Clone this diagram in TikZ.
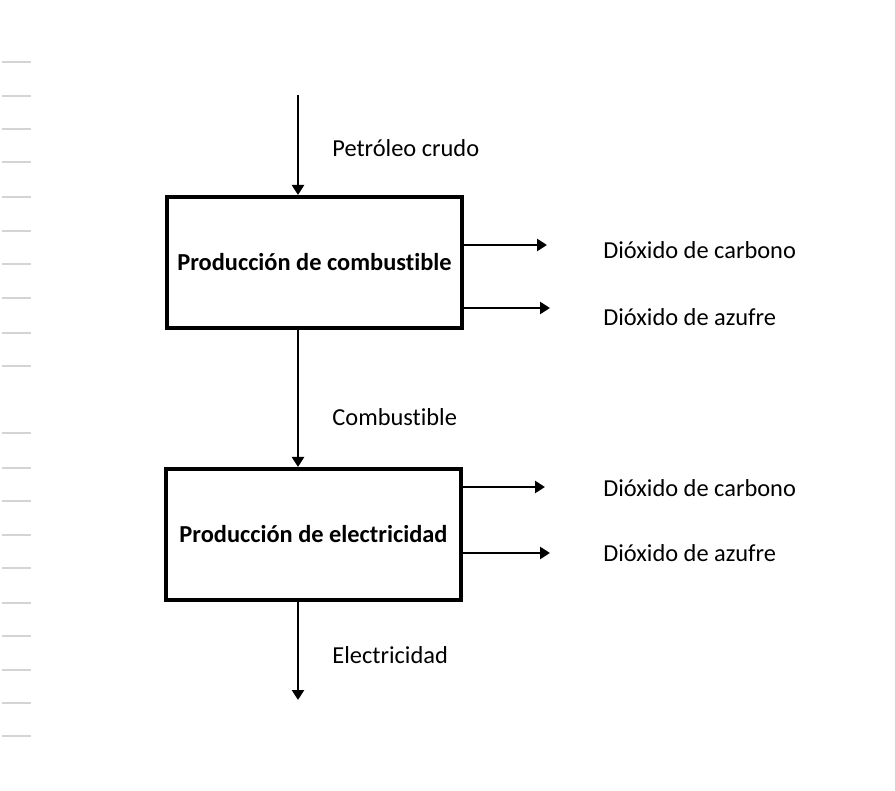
\documentclass[tikz,border=0pt]{standalone}
\usepackage{fontspec}
\setmainfont{Carlito}[Ligatures=NoCommon]
\usepackage{tikz}
\usetikzlibrary{positioning,arrows.meta}
\definecolor{rulegray}{RGB}{212,212,212}

\tikzset{
  procbox/.style={draw=black, line width=2pt, minimum width=147.5pt, minimum height=65.5pt,
    font=\fontsize{12.2}{14}\selectfont\bfseries},
  flow/.style={line width=1.4pt, -{Triangle[length=5pt,width=6pt]}},
  flowlabel/.style={anchor=west, inner sep=0pt, font=\fontsize{12.2}{14}\selectfont}
}

\begin{document}
\begin{tikzpicture}[x=0.5pt, y=-0.5pt]
\useasboundingbox[fill=white] (0,0) rectangle (895,791);
% margin rules
\foreach \y in {62,96,129,162,197,231,264,298,333,366,433,468,501,535,568,603,636,670,703,736}
    \draw[rulegray, line width=0.7pt] (2,\y) -- (31,\y);
% process boxes
\node[procbox] (fuel) at (314.5,262.5) {Producción de combustible};
\node[procbox] (elec) at (313.5,534.5) {Producción de electricidad};
% flows in and out
\coordinate (crude) at (298,95);
\coordinate (power) at (298,700);
\draw[flow] (crude) -- (crude |- fuel.north);
\draw[flow] (crude |- fuel.south) -- (crude |- elec.north);
\draw[flow] (crude |- elec.south) -- (power);
\node[flowlabel] (crudelbl) at (332,148) {Petróleo crudo};
\node[flowlabel] (fuellbl) at (332,417) {Combustible};
\node[flowlabel] (powerlbl) at (332,655) {Electricidad};
% emissions
\coordinate (fuelco2) at (547,245);
\coordinate (fuelso2) at (550,308);
\coordinate (elecco2) at (545,487);
\coordinate (elecso2) at (550,553);
\draw[flow] (fuelco2 -| fuel.east) -- (fuelco2);
\draw[flow] (fuelso2 -| fuel.east) -- (fuelso2);
\draw[flow] (elecco2 -| elec.east) -- (elecco2);
\draw[flow] (elecso2 -| elec.east) -- (elecso2);
\node[flowlabel] (fuelco2lbl) at (603,250) {Dióxido de carbono};
\node[flowlabel] (fuelso2lbl) at (603,317) {Dióxido de azufre};
\node[flowlabel] (elecco2lbl) at (603,488) {Dióxido de carbono};
\node[flowlabel] (elecso2lbl) at (603,553) {Dióxido de azufre};
\end{tikzpicture}
\end{document}
